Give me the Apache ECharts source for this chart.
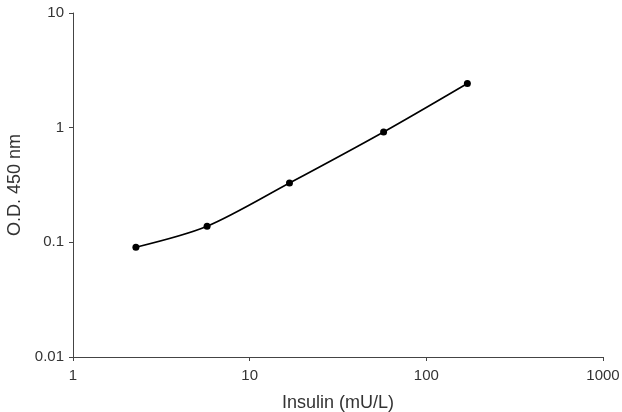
<!DOCTYPE html>
<html><head><meta charset="utf-8">
<script src="https://cdn.jsdelivr.net/npm/echarts@6/dist/echarts.min.js"></script>
<style>html,body{margin:0;padding:0;background:#fff}#c{width:622px;height:412px}</style>
</head><body><div id="c"></div>
<script>
const insulin = [2.27, 5.74, 16.8, 57.3, 170.7];
const od450 = [0.0906, 0.138, 0.329, 0.918, 2.43];
const xTicks = [1, 10, 100, 1000];
const yTicks = [0.01, 0.1, 1, 10];

const chart = echarts.init(document.getElementById('c'), null, {renderer: 'canvas'});
const font = '"Liberation Sans", Arial, sans-serif';
const fmt = v => { const r = Number(v.toPrecision(3)); return String(r); };
chart.setOption({
  animation: false,
  grid: {left: 73, right: 19, top: 13, bottom: 55, containLabel: false, outerBoundsMode: 'none'},
  xAxis: {
    type: 'log', logBase: 10, min: xTicks[0], max: xTicks[xTicks.length - 1],
    name: 'Insulin (mU/L)', nameLocation: 'middle', nameGap: 37,
    nameTextStyle: {color: '#333', fontSize: 18, fontFamily: font},
    axisLine: {lineStyle: {color: '#444', width: 1}},
    axisTick: {show: true, length: 4, inside: false, lineStyle: {color: '#444'}},
    axisLabel: {color: '#333', fontSize: 15, fontFamily: font, margin: 11, formatter: fmt},
    splitLine: {show: false}, minorTick: {show: false}
  },
  yAxis: {
    type: 'log', logBase: 10, min: yTicks[0], max: yTicks[yTicks.length - 1],
    name: 'O.D. 450 nm', nameLocation: 'middle', nameGap: 48, nameRotate: 90,
    nameTextStyle: {color: '#333', fontSize: 18, fontFamily: font},
    axisLine: {show: true, lineStyle: {color: '#444', width: 1}},
    axisTick: {show: true, length: 4, inside: false, lineStyle: {color: '#444'}},
    axisLabel: {color: '#333', fontSize: 15, fontFamily: font, margin: 9, formatter: fmt},
    splitLine: {show: false}
  },
  series: [{
    type: 'line',
    data: insulin.map((x, i) => [x, od450[i]]),
    smooth: 0.3,
    symbol: 'circle', symbolSize: 7,
    itemStyle: {color: '#000'},
    lineStyle: {color: '#000', width: 1.6}
  }]
});
</script></body></html>
